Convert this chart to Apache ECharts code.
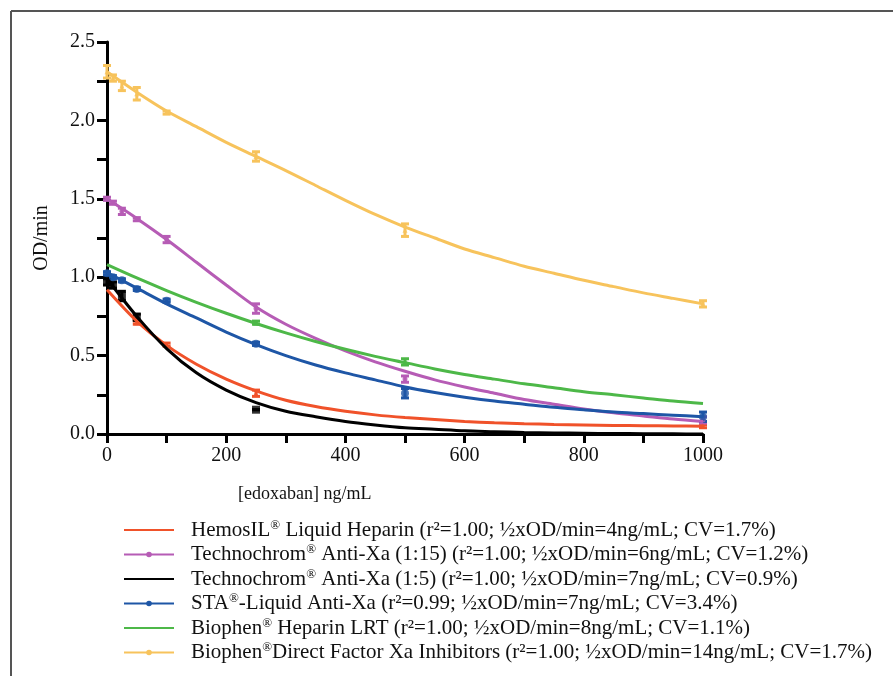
<!DOCTYPE html>
<html><head><meta charset="utf-8">
<script src="https://cdn.jsdelivr.net/npm/echarts@6/dist/echarts.min.js"></script>
<style>html,body{margin:0;padding:0;background:#fff}#c{width:893px;height:676px}</style>
</head><body><div id="c"></div>
<script>
// ---- data ----
const seriesNames = [
  'HemosIL Liquid Heparin',
  'Technochrom Anti-Xa (1:15)',
  'Technochrom Anti-Xa (1:5)',
  'STA-Liquid Anti-Xa',
  'Biophen Heparin LRT',
  'Biophen Direct Factor Xa Inhibitors'
];
const legendBrand = ['HemosIL','Technochrom','Technochrom','STA','Biophen','Biophen'];
const legendRest = [
  ' Liquid Heparin (r²=1.00; ½xOD/min=4ng/mL; CV=1.7%)',
  ' Anti-Xa (1:15) (r²=1.00; ½xOD/min=6ng/mL; CV=1.2%)',
  ' Anti-Xa (1:5) (r²=1.00; ½xOD/min=7ng/mL; CV=0.9%)',
  '-Liquid Anti-Xa (r²=0.99; ½xOD/min=7ng/mL; CV=3.4%)',
  ' Heparin LRT (r²=1.00; ½xOD/min=8ng/mL; CV=1.1%)',
  'Direct Factor Xa Inhibitors (r²=1.00; ½xOD/min=14ng/mL; CV=1.7%)'
];
const xTicks = [0, 200, 400, 600, 800, 1000];
const yTicks = [0.0, 0.5, 1.0, 1.5, 2.0, 2.5];

// fitted curves read at these concentrations
const curveX = [0,50,100,150,200,250,300,350,400,450,500,550,600,650,700,750,800,850,900,950,1000];
const hemosilCurve = [0.92,0.72,0.565,0.445,0.35,0.275,0.215,0.175,0.145,0.122,0.105,0.092,0.08,0.072,0.066,0.061,0.058,0.055,0.053,0.051,0.05];
const techno15Curve = [1.50,1.375,1.24,1.095,0.95,0.81,0.70,0.61,0.53,0.46,0.40,0.345,0.30,0.26,0.22,0.19,0.16,0.135,0.115,0.095,0.08];
const techno5Curve = [0.99,0.75,0.545,0.39,0.28,0.20,0.145,0.11,0.08,0.058,0.04,0.03,0.02,0.015,0.01,0.007,0.005,0.003,0.002,0.001,0.0];
const staCurve = [1.03,0.93,0.83,0.74,0.65,0.57,0.50,0.44,0.39,0.345,0.30,0.265,0.235,0.21,0.19,0.17,0.155,0.14,0.13,0.12,0.11];
const lrtCurve = [1.08,0.995,0.915,0.84,0.77,0.705,0.645,0.59,0.54,0.495,0.455,0.415,0.38,0.35,0.32,0.295,0.27,0.25,0.23,0.21,0.195];
const dfxaCurve = [2.31,2.18,2.06,1.96,1.86,1.77,1.68,1.585,1.49,1.40,1.32,1.25,1.18,1.125,1.07,1.025,0.98,0.94,0.90,0.865,0.83];

// measured points (mean) and error (SD) at these concentrations
const doses = [0,10,25,50,100,250,500,1000];
const hemosilPts = [null,null,null,0.71,0.57,0.26,null,0.05];
const hemosilErr = [0,0,0,0.01,0.01,0.02,0,0.01];
const techno15Pts = [1.50,1.475,1.42,1.37,1.24,0.80,0.35,0.09];
const techno15Err = [0.01,0.01,0.02,0.01,0.02,0.03,0.02,0.02];
const techno5Pts = [0.97,0.95,0.88,0.745,null,0.155,null,null];
const techno5Err = [0.02,0.02,0.03,0.02,0,0.0,0,0];
const staPts = [1.025,1.0,0.98,0.925,0.85,0.575,0.26,0.11];
const staErr = [0.01,0.01,0.01,0.01,0.01,0.01,0.03,0.03];
const lrtPts = [null,null,null,null,null,0.71,0.46,null];
const lrtErr = [0,0,0,0,0,0.01,0.02,0];
const dfxaPts = [2.31,2.27,2.22,2.17,2.05,1.77,1.30,0.83];
const dfxaErr = [0.04,0.02,0.03,0.04,0.01,0.03,0.04,0.02];

const colors = ['#f0522a','#b65cb5','#000000','#1e56a6','#4db848','#f7c35c'];
const curves = [hemosilCurve, techno15Curve, techno5Curve, staCurve, lrtCurve, dfxaCurve];
const pts = [hemosilPts, techno15Pts, techno5Pts, staPts, lrtPts, dfxaPts];
const errs = [hemosilErr, techno15Err, techno5Err, staErr, lrtErr, dfxaErr];
const legendDot = [false, true, false, true, false, true];
const markerSymbol = ['triangle','circle','rect','circle','triangle','triangle'];
const markerSize = [5,5,8,8,6,5];

const SERIF = '"Liberation Serif","Times New Roman",serif';
const chart = echarts.init(document.getElementById('c'));

const series = [];
curves.forEach((c, i) => {
  const data = doses.map((d, j) => pts[i][j] == null ? null : [d, pts[i][j], errs[i][j]]).filter(Boolean);
  series.push({
    type: 'custom', name: seriesNames[i] + ' err', z: 3,
    data: data,
    renderItem: (params, api) => {
      const x = api.value(0), y = api.value(1), e = api.value(2);
      const t = api.coord([x, y + e]), b = api.coord([x, y - e]);
      const st = { stroke: colors[i], lineWidth: 3 };
      return { type: 'group', children: [
        { type: 'line', shape: { x1: t[0], y1: t[1], x2: b[0], y2: b[1] }, style: st },
        { type: 'line', shape: { x1: t[0]-4, y1: t[1], x2: t[0]+4, y2: t[1] }, style: st },
        { type: 'line', shape: { x1: b[0]-4, y1: b[1], x2: b[0]+4, y2: b[1] }, style: st }
      ]};
    }
  });
  series.push({
    type: 'scatter', name: seriesNames[i] + ' pts', z: 4,
    symbol: markerSymbol[i], symbolSize: markerSize[i],
    itemStyle: { color: colors[i] },
    data: data.map(p => [p[0], p[1]])
  });
});
curves.forEach((c, i) => {
  series.push({
    type: 'line', name: seriesNames[i], z: 5,
    smooth: 0.3,
    symbol: 'circle', symbolSize: 5, showSymbol: false,
    lineStyle: { color: colors[i], width: 3 },
    itemStyle: { color: colors[i] },
    data: curveX.map((x, j) => [x, c[j]])
  });
});

const legendMap = {};
seriesNames.forEach((n, i) => legendMap[n] = i);

chart.setOption({
  animation: false,
  backgroundColor: '#fff',
  grid: { left: 107, right: 190, top: 42, bottom: 242, containLabel: false },
  xAxis: {
    type: 'value', min: 0, max: 1000, interval: 100,
    axisLine: { lineStyle: { color: '#000', width: 3 } },
    axisTick: { length: 9, lineStyle: { color: '#000', width: 3 } },
    splitLine: { show: false },
    axisLabel: { margin: 12, color: '#111', fontFamily: SERIF, fontSize: 20,
      formatter: v => xTicks.indexOf(v) >= 0 ? String(v) : '' }
  },
  yAxis: {
    type: 'value', min: 0, max: 2.5, interval: 0.25,
    axisLine: { show: true, lineStyle: { color: '#000', width: 3 } },
    axisTick: { show: true, length: 10, lineStyle: { color: '#000', width: 3 } },
    splitLine: { show: false },
    axisLabel: { margin: 12, color: '#111', fontFamily: SERIF, fontSize: 20,
      formatter: v => { const k = yTicks.findIndex(t => Math.abs(t - v) < 1e-6); return k >= 0 ? yTicks[k].toFixed(1) : ''; } }
  },
  legend: {
    data: seriesNames.map((n, i) => legendDot[i] ? { name: n } : { name: n, itemStyle: { opacity: 0 } }),
    orient: 'vertical', left: 118, top: 514, height: 170,
    itemWidth: 50, itemHeight: 7, itemGap: 2.5,
    selectedMode: false,
    formatter: name => {
      const i = legendMap[name];
      return legendBrand[i] + '{sup|®}' + legendRest[i];
    },
    textStyle: { fontFamily: SERIF, fontSize: 21, lineHeight: 20, color: '#111', padding: [0,0,0,12],
      rich: { sup: { fontFamily: SERIF, fontSize: 13, lineHeight: 20, color: '#111', padding: [0,0,9,0] } } }
  },
  graphic: [
    { type: 'line', shape: { x1: 11, y1: 11, x2: 893, y2: 11 }, style: { stroke: '#555', lineWidth: 2 } },
    { type: 'line', shape: { x1: 11, y1: 11, x2: 11, y2: 676 }, style: { stroke: '#555', lineWidth: 2 } },
    { type: 'text', left: 238, top: 485, style: { text: '[edoxaban] ng/mL', font: '18px ' + SERIF, fill: '#111' } },
    { type: 'text', x: 42, y: 238, rotation: Math.PI / 2, style: { text: 'OD/min', font: '20px ' + SERIF, fill: '#111', align: 'center', verticalAlign: 'middle' } }
  ],
  series: series
});
</script>
</body></html>
